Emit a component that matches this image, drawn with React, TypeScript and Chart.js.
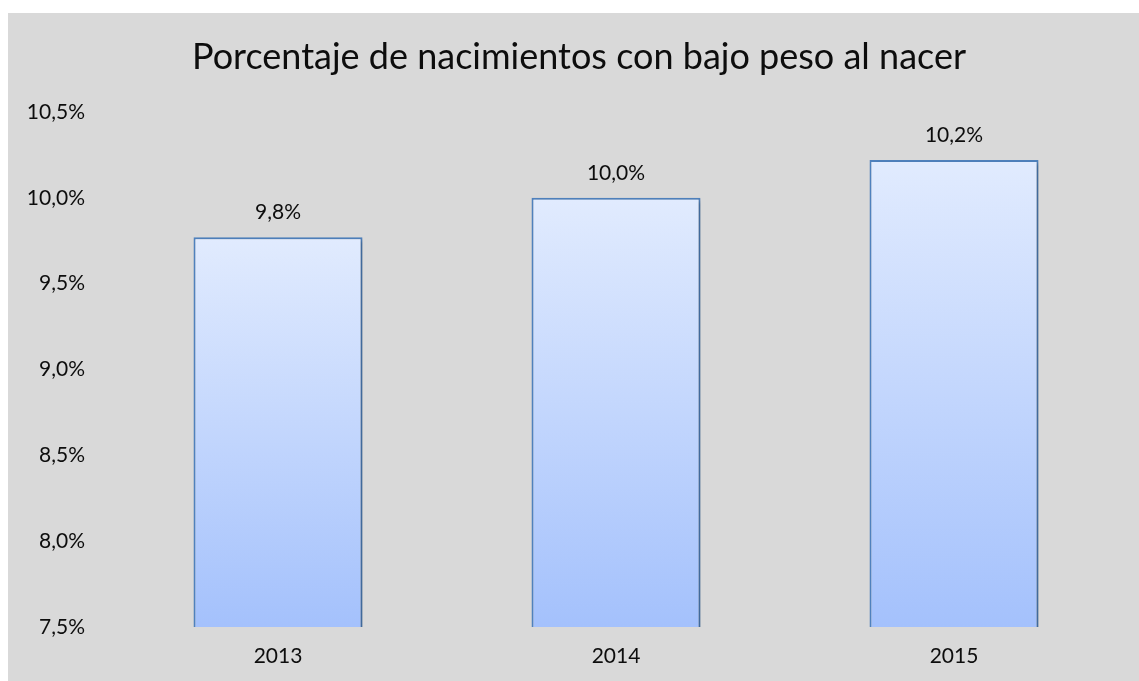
import React, { useEffect, useRef } from "react";
import { Chart, registerables } from "chart.js";

Chart.register(...registerables);

const categories = ["2013", "2014", "2015"];
const values = [9.77, 10.0, 10.22];
const valueLabels = ["9,8%", "10,0%", "10,2%"];
const titleText = "Porcentaje de nacimientos con bajo peso al nacer";
const yMin = 7.5;
const yMax = 10.5;
const yStep = 0.5;

const FONT = "Lato, 'Open Sans', sans-serif";

export default function App() {
  const ref = useRef<HTMLCanvasElement | null>(null);

  useEffect(() => {
    const canvas = ref.current;
    if (!canvas) return;

    const barPlugin = {
      id: "barDecor",
      beforeDatasetsDraw(chart: any) {
        const c = chart.ctx;
        c.save();
        c.shadowColor = "rgba(0,0,0,0.2)";
        c.shadowOffsetX = 3;
        c.shadowOffsetY = 2;
        c.shadowBlur = 4;
      },
      afterDatasetsDraw(chart: any) {
        const c = chart.ctx;
        c.restore();
        const meta = chart.getDatasetMeta(0);
        c.save();
        c.font = `21px ${FONT}`;
        c.fillStyle = "#0d0d0d";
        c.textAlign = "center";
        c.textBaseline = "middle";
        meta.data.forEach((el: any, i: number) => {
          c.fillText(valueLabels[i], el.x, el.y - 25);
        });
        c.restore();
      },
      afterDraw(chart: any) {
        const c = chart.ctx;
        c.save();
        c.font = `36px ${FONT}`;
        c.fillStyle = "#0d0d0d";
        c.textAlign = "center";
        c.textBaseline = "middle";
        c.fillText(titleText, 571, 44);
        c.restore();
      },
    };

    const chart = new Chart(canvas, {
      type: "bar",
      data: {
        labels: categories,
        datasets: [
          {
            data: values,
            backgroundColor: (ctx: any) => {
              const ch = ctx.chart;
              const area = ch.chartArea;
              if (!area || ctx.type !== "data" || !ch.scales.y) return "#c0d4fd";
              const top = ch.scales.y.getPixelForValue(ctx.raw);
              const g = ch.ctx.createLinearGradient(0, top, 0, area.bottom);
              g.addColorStop(0, "#e1ebfe");
              g.addColorStop(1, "#a4c1fc");
              return g;
            },
            borderColor: "#4f81bd",
            borderWidth: 2,
            borderSkipped: "start",
            categoryPercentage: 1,
            barPercentage: 0.5,
          },
        ],
      },
      options: {
        responsive: false,
        animation: false,
        layout: { padding: { left: 0, right: 16, top: 99, bottom: 0 } },
        plugins: {
          legend: { display: false },
          tooltip: { enabled: false },
          title: { display: false },
        },
        scales: {
          x: {
            grid: { display: false, drawTicks: false },
            border: { display: false },
            ticks: {
              color: "#0d0d0d",
              font: { family: FONT, size: 21 },
              padding: 17,
            },
            afterFit: (s: any) => {
              s.height = 54;
            },
          },
          y: {
            min: yMin,
            max: yMax,
            grid: { display: false, drawTicks: false },
            border: { display: false },
            ticks: {
              stepSize: yStep,
              color: "#0d0d0d",
              font: { family: FONT, size: 21 },
              padding: 24,
              callback: (v: any) => Number(v).toFixed(1).replace(".", ",") + "%",
            },
            afterFit: (s: any) => {
              s.width = 101;
            },
          },
        },
      },
      plugins: [barPlugin],
    } as any);

    return () => chart.destroy();
  }, []);

  return (
    <div
      style={{
        position: "fixed",
        left: 8,
        top: 13,
        width: 1131,
        height: 668,
        background: "#d9d9d9",
      }}
    >
      <canvas ref={ref} width={1131} height={668} style={{ display: "block" }} />
    </div>
  );
}
